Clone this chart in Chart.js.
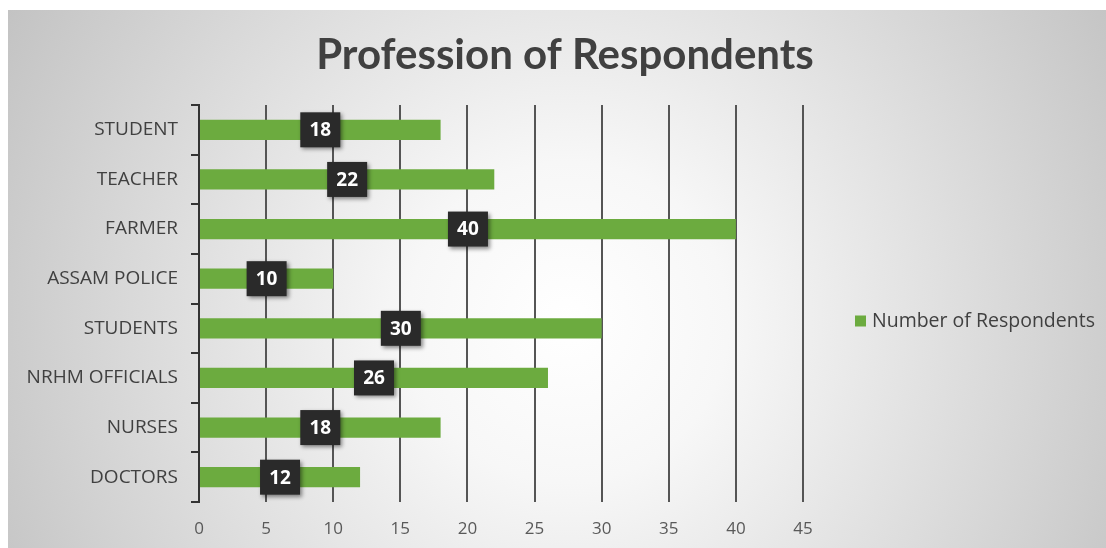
<!DOCTYPE html>
<html>
<head>
<meta charset="utf-8">
<script src="https://cdn.jsdelivr.net/npm/chart.js@4.4.1/dist/chart.umd.min.js"></script>
<style>
html, body { margin: 0; padding: 0; background: #fff; }
#wrap {
    position: absolute; left: 8px; top: 10px; width: 1098px; height: 538px;
    background: radial-gradient(circle farthest-corner at 51% 58%, #ffffff 0%, #f7f7f7 25%, #c3c3c3 100%);
}
</style>
</head>
<body>
<div id="wrap"><canvas id="myChart" width="1098" height="538"></canvas></div>
<script>
const categories = ['STUDENT', 'TEACHER', 'FARMER', 'ASSAM POLICE', 'STUDENTS', 'NRHM OFFICIALS', 'NURSES', 'DOCTORS'];
const respondents = [18, 22, 40, 10, 30, 26, 18, 12];
const seriesName = 'Number of Respondents';
const xMin = 0;
const xMax = 45;
const xStep = 5;

const ctx = document.getElementById('myChart');
const green = '#6cab3f';

// dark value boxes in the middle of each bar
const boxLabels = {
    id: 'boxLabels',
    afterDatasetsDraw(chart) {
        const c = chart.ctx;
        chart.getDatasetMeta(0).data.forEach((bar, i) => {
            const cx = (bar.x + bar.base) / 2;
            const cy = bar.y;
            const w = 40, h = 35;
            c.save();
            c.shadowColor = 'rgba(0,0,0,0.45)';
            c.shadowBlur = 4;
            c.shadowOffsetX = 2;
            c.shadowOffsetY = 2;
            c.fillStyle = '#2a2a2a';
            c.fillRect(cx - w / 2, cy - h / 2, w, h);
            c.restore();
            c.save();
            c.fillStyle = '#ffffff';
            c.font = 'bold 19px "Open Sans"';
            c.textAlign = 'center';
            c.textBaseline = 'middle';
            c.fillText(String(respondents[i]), cx, cy + 1);
            c.restore();
        });
    }
};

// legend on the right, next to the plot
const sideLegend = {
    id: 'sideLegend',
    afterDraw(chart) {
        const c = chart.ctx;
        const ds = chart.data.datasets[0];
        const x = chart.chartArea.right + 52;
        const y = 311;
        c.save();
        c.fillStyle = ds.backgroundColor;
        c.fillRect(x, y - 5.5, 11, 11);
        c.fillStyle = '#404040';
        c.font = '19.5px "Open Sans"';
        c.textBaseline = 'middle';
        c.fillText(ds.label, x + 17, y);
        c.restore();
    }
};

new Chart(ctx, {
    type: 'bar',
    data: {
        labels: categories,
        datasets: [{
            label: seriesName,
            data: respondents,
            backgroundColor: green,
            borderWidth: 0,
            barPercentage: 0.41,
            categoryPercentage: 1
        }]
    },
    options: {
        indexAxis: 'y',
        responsive: false,
        devicePixelRatio: 1,
        animation: false,
        layout: { padding: { top: 0, right: 0, bottom: 0, left: 16 } },
        scales: {
            x: {
                min: xMin,
                max: xMax,
                ticks: {
                    stepSize: xStep,
                    padding: 17,
                    color: '#595959',
                    font: { family: 'Open Sans', size: 17 }
                },
                grid: {
                    drawTicks: false,
                    lineWidth: 2,
                    color: c => (c.tick && c.tick.value === 0) ? 'rgba(0,0,0,0)' : '#555555'
                },
                border: { display: false },
                afterFit: s => { s.height = 46; }
            },
            y: {
                ticks: {
                    padding: 13,
                    color: '#404040',
                    font: { family: 'Open Sans', size: 19 }
                },
                grid: {
                    drawOnChartArea: false,
                    drawTicks: true,
                    tickLength: 8,
                    lineWidth: 2,
                    color: '#333333'
                },
                border: { display: true, color: '#333333', width: 2 },
                afterFit: s => { s.width = 175; }
            },
            // empty right-hand axis that keeps room for the legend
            yRight: {
                type: 'category',
                position: 'right',
                ticks: { display: false },
                grid: { display: false },
                border: { display: false },
                afterFit: s => { s.width = 303; }
            }
        },
        plugins: {
            title: {
                display: true,
                text: 'Profession of Respondents',
                color: '#404040',
                font: { family: 'Lato', size: 42, weight: 'bold' },
                padding: { top: 20, bottom: 24.6 }
            },
            legend: { display: false },
            tooltip: { enabled: false }
        }
    },
    plugins: [boxLabels, sideLegend]
});
</script>
</body>
</html>
